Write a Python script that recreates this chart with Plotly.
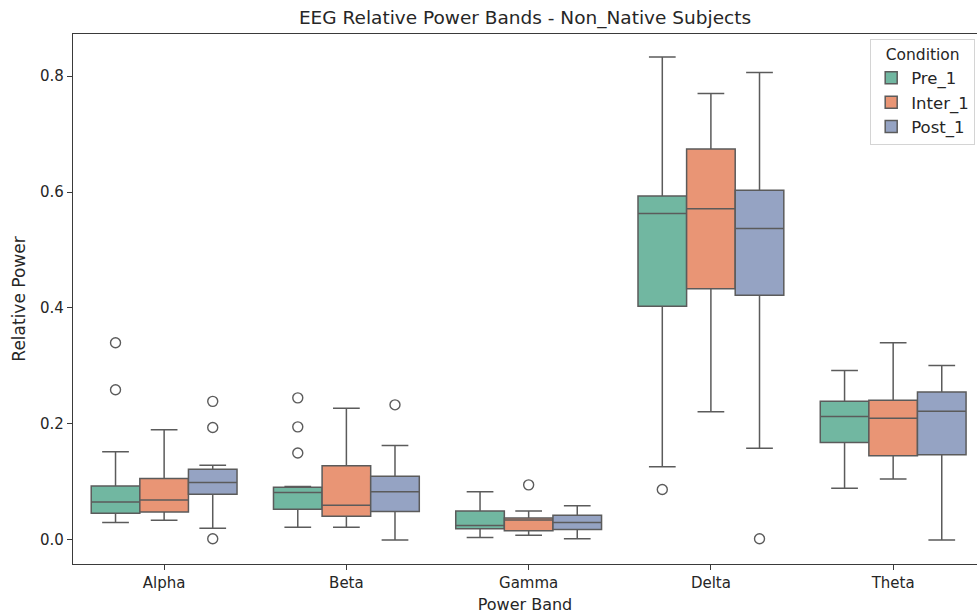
import plotly.graph_objects as go

# Power bands on the x axis and the three recording conditions
bands = ["Alpha", "Beta", "Gamma", "Delta", "Theta"]
conditions = ["Pre_1", "Inter_1", "Post_1"]

# Box statistics per condition, ordered as in `bands`
pre_lower = [0.030, 0.022, 0.004, 0.126, 0.089]
pre_q1 = [0.046, 0.053, 0.0195, 0.403, 0.168]
pre_median = [0.0655, 0.082, 0.025, 0.563, 0.213]
pre_q3 = [0.093, 0.091, 0.050, 0.593, 0.239]
pre_upper = [0.152, 0.092, 0.083, 0.833, 0.292]

inter_lower = [0.034, 0.022, 0.008, 0.221, 0.105]
inter_q1 = [0.048, 0.041, 0.016, 0.433, 0.145]
inter_median = [0.069, 0.060, 0.0345, 0.571, 0.210]
inter_q3 = [0.106, 0.128, 0.038, 0.674, 0.241]
inter_upper = [0.190, 0.227, 0.050, 0.770, 0.340]

post_lower = [0.020, 0.000, 0.002, 0.158, 0.000]
post_q1 = [0.079, 0.049, 0.018, 0.422, 0.147]
post_median = [0.099, 0.083, 0.030, 0.537, 0.222]
post_q3 = [0.122, 0.110, 0.0425, 0.603, 0.255]
post_upper = [0.129, 0.163, 0.059, 0.806, 0.301]

# Outlying observations (band, value) per condition
pre_out_band = ["Alpha", "Alpha", "Beta", "Beta", "Beta", "Delta"]
pre_out_val = [0.340, 0.259, 0.245, 0.195, 0.150, 0.087]
inter_out_band = ["Gamma"]
inter_out_val = [0.095]
post_out_band = ["Alpha", "Alpha", "Alpha", "Beta", "Delta"]
post_out_val = [0.239, 0.194, 0.002, 0.233, 0.002]

# Y-axis ticks
y_ticks = [0.0, 0.2, 0.4, 0.6, 0.8]

# Desaturated Set2 palette and the shared gray for lines
fills = ["#71b7a1", "#e99575", "#95a3c3"]
line_gray = "#5b5b5b"
axis_gray = "#3a3a3a"

stats = [
    (pre_lower, pre_q1, pre_median, pre_q3, pre_upper, pre_out_band, pre_out_val),
    (inter_lower, inter_q1, inter_median, inter_q3, inter_upper, inter_out_band, inter_out_val),
    (post_lower, post_q1, post_median, post_q3, post_upper, post_out_band, post_out_val),
]

fig = go.Figure()

for name, fill, (lo, q1, med, q3, hi, ob, ov) in zip(conditions, fills, stats):
    fig.add_trace(go.Box(
        name=name,
        x=bands,
        lowerfence=lo,
        q1=q1,
        median=med,
        q3=q3,
        upperfence=hi,
        boxpoints=False,
        fillcolor=fill,
        line=dict(color=line_gray, width=1.5),
        whiskerwidth=0.55,
        offsetgroup=name,
        alignmentgroup="cond",
    ))

for name, (lo, q1, med, q3, hi, ob, ov) in zip(conditions, stats):
    fig.add_trace(go.Scatter(
        x=ob,
        y=ov,
        mode="markers",
        marker=dict(symbol="circle-open", size=10, color=line_gray,
                    line=dict(width=1.4, color=line_gray)),
        offsetgroup=name,
        alignmentgroup="cond",
        showlegend=False,
        hoverinfo="y",
    ))

font = "DejaVu Sans, Liberation Sans, sans-serif"

fig.update_layout(
    width=977,
    height=616,
    margin=dict(l=73, r=0, t=34, b=52),
    paper_bgcolor="white",
    plot_bgcolor="white",
    font=dict(family=font, size=14, color="#262626"),
    title=dict(
        text="EEG Relative Power Bands - Non_Native Subjects",
        x=(73 + 977) / 2 / 977,
        xanchor="center",
        y=1 - 18 / 616,
        yanchor="middle",
        font=dict(size=18.5, family=font, color="#262626"),
    ),
    boxmode="group",
    boxgap=0.2,
    boxgroupgap=0.0,
    scattermode="group",
    scattergap=0.2,
    legend=dict(
        title=dict(text="Condition", side="top center", font=dict(size=15.5)),
        x=0.998,
        xanchor="right",
        y=0.99,
        yanchor="top",
        bgcolor="white",
        bordercolor="#d4d4d4",
        borderwidth=1,
        font=dict(size=16.5),
        itemwidth=30,
        tracegroupgap=2,
    ),
    xaxis=dict(
        type="category",
        categoryorder="array",
        categoryarray=bands,
        range=[-0.5, 4.46],
        showline=True,
        linecolor=axis_gray,
        linewidth=1.2,
        mirror=True,
        ticks="outside",
        ticklen=5,
        tickcolor=axis_gray,
        showgrid=False,
        zeroline=False,
        tickfont=dict(size=15),
        title=dict(text="Power Band", font=dict(size=16), standoff=7),
    ),
    yaxis=dict(
        range=[-0.0415, 0.8725],
        tickvals=y_ticks,
        tickformat=".1f",
        showline=True,
        linecolor=axis_gray,
        linewidth=1.2,
        ticks="outside",
        ticklen=5,
        tickcolor=axis_gray,
        showgrid=False,
        zeroline=False,
        tickfont=dict(size=15),
        title=dict(text="Relative Power", font=dict(size=17), standoff=10),
    ),
)

fig.write_html("out.html")
